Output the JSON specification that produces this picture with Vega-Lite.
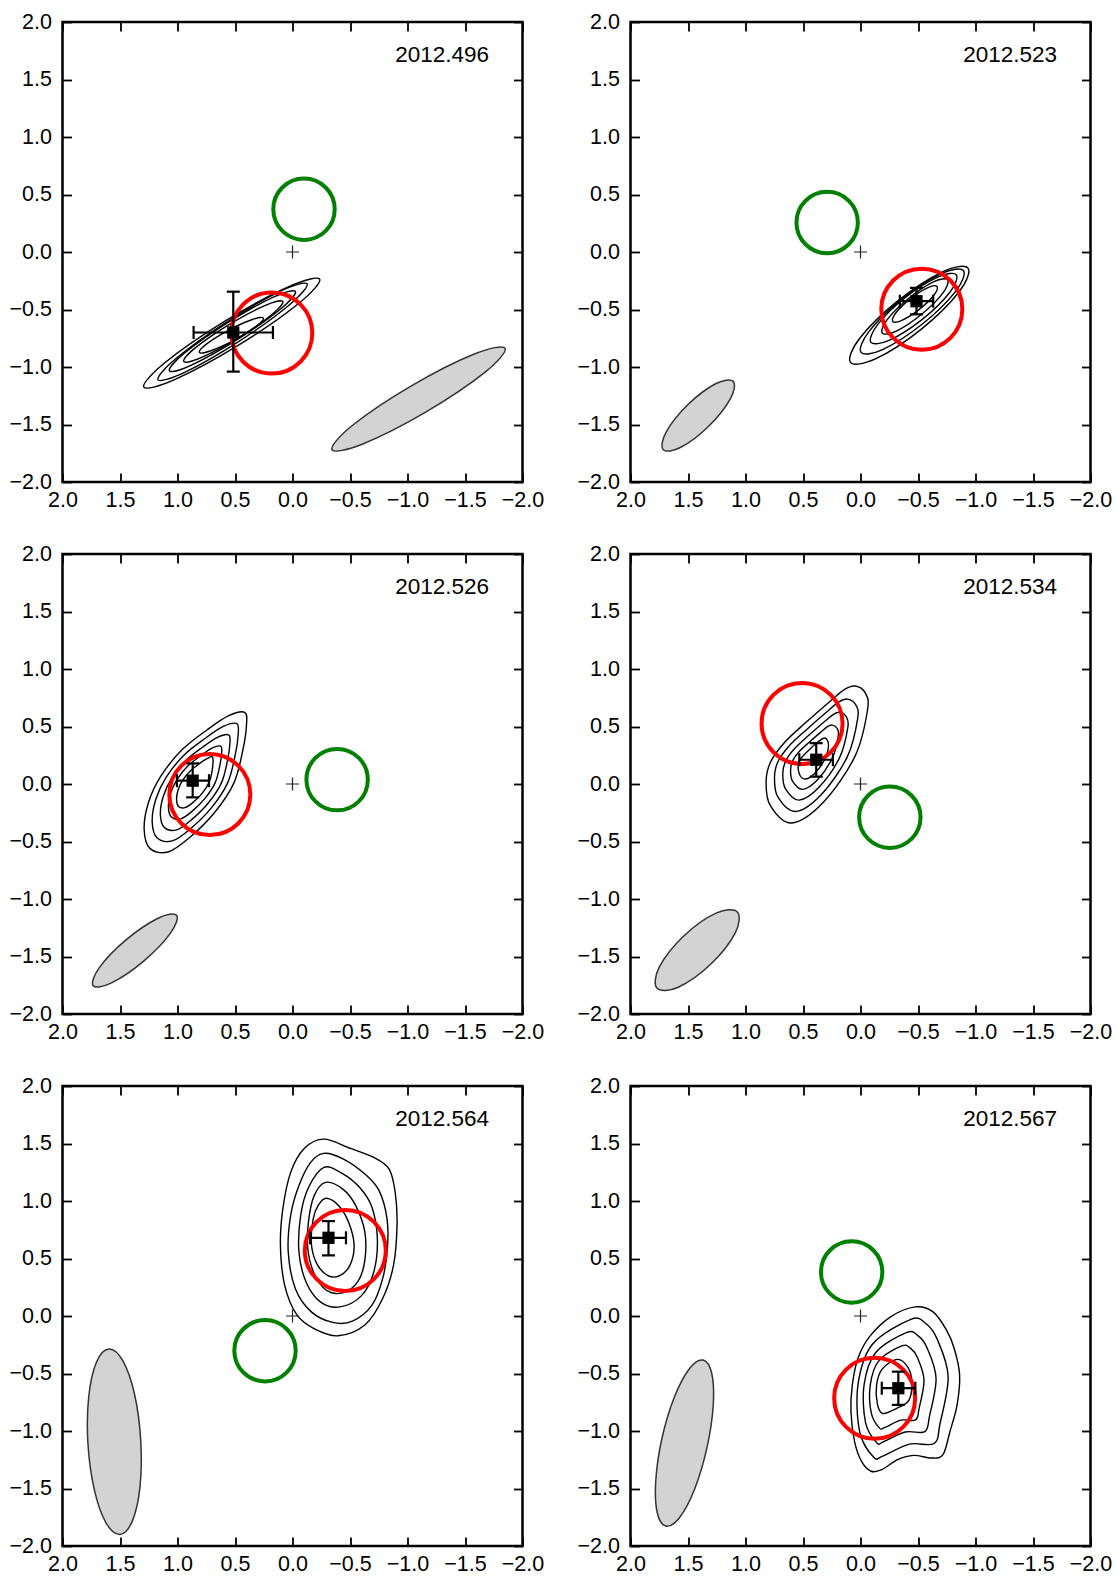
{
"$schema":"https://vega.github.io/schema/vega-lite/v6.json",
"padding":{"left":7.5,"top":9,"right":5,"bottom":5},
"data":{"values":[
{"p":"2012.496","k":"e","x":0.515,"y":-0.7,"x1":0.86,"x2":0.17,"y1":-1.04,"y2":-0.345},
{"p":"2012.496","k":"r","x":0.18,"y":-0.705},
{"p":"2012.496","k":"n","x":-0.1,"y":0.372},
{"p":"2012.496","k":"z","x":0,"y":0},
{"p":"2012.496","k":"b","o":0,"x":-1.848,"y":-0.837},
{"p":"2012.496","k":"b","o":1,"x":-1.581,"y":-0.887},
{"p":"2012.496","k":"b","o":2,"x":-1.03,"y":-1.166},
{"p":"2012.496","k":"b","o":3,"x":-0.517,"y":-1.511},
{"p":"2012.496","k":"b","o":4,"x":-0.344,"y":-1.72},
{"p":"2012.496","k":"b","o":5,"x":-0.611,"y":-1.669},
{"p":"2012.496","k":"b","o":6,"x":-1.162,"y":-1.39},
{"p":"2012.496","k":"b","o":7,"x":-1.675,"y":-1.045},
{"p":"2012.496","k":"c","g":1,"o":0,"x":-0.236,"y":-0.236},
{"p":"2012.496","k":"c","g":1,"o":1,"x":0.032,"y":-0.301},
{"p":"2012.496","k":"c","g":1,"o":2,"x":0.591,"y":-0.603},
{"p":"2012.496","k":"c","g":1,"o":3,"x":1.113,"y":-0.965},
{"p":"2012.496","k":"c","g":1,"o":4,"x":1.293,"y":-1.175},
{"p":"2012.496","k":"c","g":1,"o":5,"x":1.025,"y":-1.11},
{"p":"2012.496","k":"c","g":1,"o":6,"x":0.466,"y":-0.808},
{"p":"2012.496","k":"c","g":1,"o":7,"x":-0.056,"y":-0.446},
{"p":"2012.496","k":"c","g":2,"o":0,"x":-0.127,"y":-0.277},
{"p":"2012.496","k":"c","g":2,"o":1,"x":0.1,"y":-0.339},
{"p":"2012.496","k":"c","g":2,"o":2,"x":0.573,"y":-0.609},
{"p":"2012.496","k":"c","g":2,"o":3,"x":1.016,"y":-0.929},
{"p":"2012.496","k":"c","g":2,"o":4,"x":1.169,"y":-1.111},
{"p":"2012.496","k":"c","g":2,"o":5,"x":0.942,"y":-1.049},
{"p":"2012.496","k":"c","g":2,"o":6,"x":0.469,"y":-0.779},
{"p":"2012.496","k":"c","g":2,"o":7,"x":0.026,"y":-0.459},
{"p":"2012.496","k":"c","g":3,"o":0,"x":-0.025,"y":-0.343},
{"p":"2012.496","k":"c","g":3,"o":1,"x":0.167,"y":-0.393},
{"p":"2012.496","k":"c","g":3,"o":2,"x":0.567,"y":-0.616},
{"p":"2012.496","k":"c","g":3,"o":3,"x":0.941,"y":-0.881},
{"p":"2012.496","k":"c","g":3,"o":4,"x":1.07,"y":-1.033},
{"p":"2012.496","k":"c","g":3,"o":5,"x":0.878,"y":-0.983},
{"p":"2012.496","k":"c","g":3,"o":6,"x":0.478,"y":-0.76},
{"p":"2012.496","k":"c","g":3,"o":7,"x":0.104,"y":-0.495},
{"p":"2012.496","k":"c","g":4,"o":0,"x":0.084,"y":-0.43},
{"p":"2012.496","k":"c","g":4,"o":1,"x":0.236,"y":-0.464},
{"p":"2012.496","k":"c","g":4,"o":2,"x":0.552,"y":-0.631},
{"p":"2012.496","k":"c","g":4,"o":3,"x":0.846,"y":-0.834},
{"p":"2012.496","k":"c","g":4,"o":4,"x":0.946,"y":-0.952},
{"p":"2012.496","k":"c","g":4,"o":5,"x":0.794,"y":-0.918},
{"p":"2012.496","k":"c","g":4,"o":6,"x":0.478,"y":-0.751},
{"p":"2012.496","k":"c","g":4,"o":7,"x":0.184,"y":-0.548},
{"p":"2012.496","k":"c","g":5,"o":0,"x":0.254,"y":-0.575},
{"p":"2012.496","k":"c","g":5,"o":1,"x":0.354,"y":-0.589},
{"p":"2012.496","k":"c","g":5,"o":2,"x":0.558,"y":-0.681},
{"p":"2012.496","k":"c","g":5,"o":3,"x":0.746,"y":-0.799},
{"p":"2012.496","k":"c","g":5,"o":4,"x":0.809,"y":-0.873},
{"p":"2012.496","k":"c","g":5,"o":5,"x":0.71,"y":-0.859},
{"p":"2012.496","k":"c","g":5,"o":6,"x":0.506,"y":-0.767},
{"p":"2012.496","k":"c","g":5,"o":7,"x":0.318,"y":-0.649},

{"p":"2012.523","k":"e","x":-0.487,"y":-0.428,"x1":-0.342,"x2":-0.632,"y1":-0.542,"y2":-0.312},
{"p":"2012.523","k":"r","x":-0.533,"y":-0.497},
{"p":"2012.523","k":"n","x":0.29,"y":0.256},
{"p":"2012.523","k":"z","x":0,"y":0},
{"p":"2012.523","k":"b","o":0,"x":1.107,"y":-1.125},
{"p":"2012.523","k":"b","o":1,"x":1.26,"y":-1.146},
{"p":"2012.523","k":"b","o":2,"x":1.502,"y":-1.329},
{"p":"2012.523","k":"b","o":3,"x":1.69,"y":-1.566},
{"p":"2012.523","k":"b","o":4,"x":1.715,"y":-1.719},
{"p":"2012.523","k":"b","o":5,"x":1.562,"y":-1.698},
{"p":"2012.523","k":"b","o":6,"x":1.32,"y":-1.515},
{"p":"2012.523","k":"b","o":7,"x":1.132,"y":-1.278},
{"p":"2012.523","k":"c","g":1,"o":0,"x":-0.935,"y":-0.14},
{"p":"2012.523","k":"c","g":1,"o":1,"x":-0.714,"y":-0.172},
{"p":"2012.523","k":"c","g":1,"o":2,"x":-0.324,"y":-0.425},
{"p":"2012.523","k":"c","g":1,"o":3,"x":0.008,"y":-0.752},
{"p":"2012.523","k":"c","g":1,"o":4,"x":0.087,"y":-0.96},
{"p":"2012.523","k":"c","g":1,"o":5,"x":-0.134,"y":-0.928},
{"p":"2012.523","k":"c","g":1,"o":6,"x":-0.524,"y":-0.675},
{"p":"2012.523","k":"c","g":1,"o":7,"x":-0.856,"y":-0.348},
{"p":"2012.523","k":"c","g":2,"o":0,"x":-0.895,"y":-0.161},
{"p":"2012.523","k":"c","g":2,"o":1,"x":-0.703,"y":-0.188},
{"p":"2012.523","k":"c","g":2,"o":2,"x":-0.362,"y":-0.408},
{"p":"2012.523","k":"c","g":2,"o":3,"x":-0.073,"y":-0.692},
{"p":"2012.523","k":"c","g":2,"o":4,"x":-0.005,"y":-0.873},
{"p":"2012.523","k":"c","g":2,"o":5,"x":-0.197,"y":-0.846},
{"p":"2012.523","k":"c","g":2,"o":6,"x":-0.538,"y":-0.626},
{"p":"2012.523","k":"c","g":2,"o":7,"x":-0.827,"y":-0.342},
{"p":"2012.523","k":"c","g":3,"o":0,"x":-0.833,"y":-0.198},
{"p":"2012.523","k":"c","g":3,"o":1,"x":-0.671,"y":-0.218},
{"p":"2012.523","k":"c","g":3,"o":2,"x":-0.387,"y":-0.398},
{"p":"2012.523","k":"c","g":3,"o":3,"x":-0.147,"y":-0.634},
{"p":"2012.523","k":"c","g":3,"o":4,"x":-0.091,"y":-0.786},
{"p":"2012.523","k":"c","g":3,"o":5,"x":-0.253,"y":-0.766},
{"p":"2012.523","k":"c","g":3,"o":6,"x":-0.537,"y":-0.586},
{"p":"2012.523","k":"c","g":3,"o":7,"x":-0.777,"y":-0.35},
{"p":"2012.523","k":"c","g":4,"o":0,"x":-0.757,"y":-0.242},
{"p":"2012.523","k":"c","g":4,"o":1,"x":-0.634,"y":-0.26},
{"p":"2012.523","k":"c","g":4,"o":2,"x":-0.417,"y":-0.404},
{"p":"2012.523","k":"c","g":4,"o":3,"x":-0.232,"y":-0.588},
{"p":"2012.523","k":"c","g":4,"o":4,"x":-0.189,"y":-0.705},
{"p":"2012.523","k":"c","g":4,"o":5,"x":-0.312,"y":-0.688},
{"p":"2012.523","k":"c","g":4,"o":6,"x":-0.529,"y":-0.544},
{"p":"2012.523","k":"c","g":4,"o":7,"x":-0.714,"y":-0.36},
{"p":"2012.523","k":"c","g":5,"o":0,"x":-0.665,"y":-0.3},
{"p":"2012.523","k":"c","g":5,"o":1,"x":-0.582,"y":-0.312},
{"p":"2012.523","k":"c","g":5,"o":2,"x":-0.435,"y":-0.405},
{"p":"2012.523","k":"c","g":5,"o":3,"x":-0.31,"y":-0.526},
{"p":"2012.523","k":"c","g":5,"o":4,"x":-0.281,"y":-0.604},
{"p":"2012.523","k":"c","g":5,"o":5,"x":-0.364,"y":-0.592},
{"p":"2012.523","k":"c","g":5,"o":6,"x":-0.511,"y":-0.499},
{"p":"2012.523","k":"c","g":5,"o":7,"x":-0.636,"y":-0.378},

{"p":"2012.526","k":"e","x":0.868,"y":0.029,"x1":1.005,"x2":0.726,"y1":-0.116,"y2":0.179},
{"p":"2012.526","k":"r","x":0.719,"y":-0.092},
{"p":"2012.526","k":"n","x":-0.388,"y":0.038},
{"p":"2012.526","k":"z","x":0,"y":0},
{"p":"2012.526","k":"b","o":0,"x":1.008,"y":-1.142},
{"p":"2012.526","k":"b","o":1,"x":1.169,"y":-1.167},
{"p":"2012.526","k":"b","o":2,"x":1.448,"y":-1.356},
{"p":"2012.526","k":"b","o":3,"x":1.681,"y":-1.599},
{"p":"2012.526","k":"b","o":4,"x":1.733,"y":-1.754},
{"p":"2012.526","k":"b","o":5,"x":1.573,"y":-1.729},
{"p":"2012.526","k":"b","o":6,"x":1.294,"y":-1.54},
{"p":"2012.526","k":"b","o":7,"x":1.061,"y":-1.297},
{"p":"2012.526","k":"c","g":1,"o":0,"x":0.416,"y":0.623},
{"p":"2012.526","k":"c","g":1,"o":1,"x":0.4,"y":0.516},
{"p":"2012.526","k":"c","g":1,"o":2,"x":0.431,"y":0.299},
{"p":"2012.526","k":"c","g":1,"o":3,"x":0.509,"y":0.01},
{"p":"2012.526","k":"c","g":1,"o":4,"x":0.679,"y":-0.25},
{"p":"2012.526","k":"c","g":1,"o":5,"x":0.897,"y":-0.467},
{"p":"2012.526","k":"c","g":1,"o":6,"x":1.083,"y":-0.591},
{"p":"2012.526","k":"c","g":1,"o":7,"x":1.238,"y":-0.562},
{"p":"2012.526","k":"c","g":1,"o":8,"x":1.29,"y":-0.395},
{"p":"2012.526","k":"c","g":1,"o":9,"x":1.253,"y":-0.163},
{"p":"2012.526","k":"c","g":1,"o":10,"x":1.145,"y":0.068},
{"p":"2012.526","k":"c","g":1,"o":11,"x":0.959,"y":0.299},
{"p":"2012.526","k":"c","g":1,"o":12,"x":0.741,"y":0.472},
{"p":"2012.526","k":"c","g":1,"o":13,"x":0.555,"y":0.594},
{"p":"2012.526","k":"c","g":2,"o":0,"x":0.485,"y":0.525},
{"p":"2012.526","k":"c","g":2,"o":1,"x":0.472,"y":0.435},
{"p":"2012.526","k":"c","g":2,"o":2,"x":0.498,"y":0.253},
{"p":"2012.526","k":"c","g":2,"o":3,"x":0.564,"y":0.01},
{"p":"2012.526","k":"c","g":2,"o":4,"x":0.706,"y":-0.208},
{"p":"2012.526","k":"c","g":2,"o":5,"x":0.889,"y":-0.391},
{"p":"2012.526","k":"c","g":2,"o":6,"x":1.046,"y":-0.495},
{"p":"2012.526","k":"c","g":2,"o":7,"x":1.176,"y":-0.47},
{"p":"2012.526","k":"c","g":2,"o":8,"x":1.22,"y":-0.33},
{"p":"2012.526","k":"c","g":2,"o":9,"x":1.189,"y":-0.135},
{"p":"2012.526","k":"c","g":2,"o":10,"x":1.098,"y":0.059},
{"p":"2012.526","k":"c","g":2,"o":11,"x":0.942,"y":0.253},
{"p":"2012.526","k":"c","g":2,"o":12,"x":0.758,"y":0.398},
{"p":"2012.526","k":"c","g":2,"o":13,"x":0.602,"y":0.501},
{"p":"2012.526","k":"c","g":3,"o":0,"x":0.555,"y":0.427},
{"p":"2012.526","k":"c","g":3,"o":1,"x":0.544,"y":0.354},
{"p":"2012.526","k":"c","g":3,"o":2,"x":0.565,"y":0.207},
{"p":"2012.526","k":"c","g":3,"o":3,"x":0.618,"y":0.01},
{"p":"2012.526","k":"c","g":3,"o":4,"x":0.734,"y":-0.167},
{"p":"2012.526","k":"c","g":3,"o":5,"x":0.882,"y":-0.314},
{"p":"2012.526","k":"c","g":3,"o":6,"x":1.008,"y":-0.399},
{"p":"2012.526","k":"c","g":3,"o":7,"x":1.114,"y":-0.379},
{"p":"2012.526","k":"c","g":3,"o":8,"x":1.149,"y":-0.265},
{"p":"2012.526","k":"c","g":3,"o":9,"x":1.124,"y":-0.108},
{"p":"2012.526","k":"c","g":3,"o":10,"x":1.051,"y":0.049},
{"p":"2012.526","k":"c","g":3,"o":11,"x":0.924,"y":0.207},
{"p":"2012.526","k":"c","g":3,"o":12,"x":0.776,"y":0.324},
{"p":"2012.526","k":"c","g":3,"o":13,"x":0.649,"y":0.407},
{"p":"2012.526","k":"c","g":4,"o":0,"x":0.624,"y":0.329},
{"p":"2012.526","k":"c","g":4,"o":1,"x":0.616,"y":0.273},
{"p":"2012.526","k":"c","g":4,"o":2,"x":0.632,"y":0.16},
{"p":"2012.526","k":"c","g":4,"o":3,"x":0.673,"y":0.01},
{"p":"2012.526","k":"c","g":4,"o":4,"x":0.761,"y":-0.125},
{"p":"2012.526","k":"c","g":4,"o":5,"x":0.874,"y":-0.238},
{"p":"2012.526","k":"c","g":4,"o":6,"x":0.971,"y":-0.303},
{"p":"2012.526","k":"c","g":4,"o":7,"x":1.052,"y":-0.287},
{"p":"2012.526","k":"c","g":4,"o":8,"x":1.079,"y":-0.201},
{"p":"2012.526","k":"c","g":4,"o":9,"x":1.06,"y":-0.08},
{"p":"2012.526","k":"c","g":4,"o":10,"x":1.003,"y":0.04},
{"p":"2012.526","k":"c","g":4,"o":11,"x":0.907,"y":0.16},
{"p":"2012.526","k":"c","g":4,"o":12,"x":0.793,"y":0.25},
{"p":"2012.526","k":"c","g":4,"o":13,"x":0.697,"y":0.314},
{"p":"2012.526","k":"c","g":5,"o":0,"x":0.694,"y":0.231},
{"p":"2012.526","k":"c","g":5,"o":1,"x":0.699,"y":0.114},
{"p":"2012.526","k":"c","g":5,"o":2,"x":0.727,"y":0.01},
{"p":"2012.526","k":"c","g":5,"o":3,"x":0.788,"y":-0.084},
{"p":"2012.526","k":"c","g":5,"o":4,"x":0.867,"y":-0.162},
{"p":"2012.526","k":"c","g":5,"o":5,"x":0.934,"y":-0.206},
{"p":"2012.526","k":"c","g":5,"o":6,"x":0.99,"y":-0.196},
{"p":"2012.526","k":"c","g":5,"o":7,"x":1.008,"y":-0.136},
{"p":"2012.526","k":"c","g":5,"o":8,"x":0.995,"y":-0.052},
{"p":"2012.526","k":"c","g":5,"o":9,"x":0.956,"y":0.031},
{"p":"2012.526","k":"c","g":5,"o":10,"x":0.889,"y":0.114},
{"p":"2012.526","k":"c","g":5,"o":11,"x":0.811,"y":0.176},
{"p":"2012.526","k":"c","g":5,"o":12,"x":0.744,"y":0.22},

{"p":"2012.534","k":"e","x":0.385,"y":0.211,"x1":0.532,"x2":0.24,"y1":0.064,"y2":0.355},
{"p":"2012.534","k":"r","x":0.508,"y":0.526},
{"p":"2012.534","k":"n","x":-0.255,"y":-0.289},
{"p":"2012.534","k":"z","x":0,"y":0},
{"p":"2012.534","k":"b","o":0,"x":1.071,"y":-1.113},
{"p":"2012.534","k":"b","o":1,"x":1.256,"y":-1.123},
{"p":"2012.534","k":"b","o":2,"x":1.537,"y":-1.322},
{"p":"2012.534","k":"b","o":3,"x":1.75,"y":-1.593},
{"p":"2012.534","k":"b","o":4,"x":1.769,"y":-1.777},
{"p":"2012.534","k":"b","o":5,"x":1.584,"y":-1.767},
{"p":"2012.534","k":"b","o":6,"x":1.303,"y":-1.568},
{"p":"2012.534","k":"b","o":7,"x":1.09,"y":-1.297},
{"p":"2012.534","k":"c","g":1,"o":0,"x":0.046,"y":0.852},
{"p":"2012.534","k":"c","g":1,"o":1,"x":-0.04,"y":0.794},
{"p":"2012.534","k":"c","g":1,"o":2,"x":-0.062,"y":0.65},
{"p":"2012.534","k":"c","g":1,"o":3,"x":0.046,"y":0.245},
{"p":"2012.534","k":"c","g":1,"o":4,"x":0.323,"y":-0.159},
{"p":"2012.534","k":"c","g":1,"o":5,"x":0.6,"y":-0.339},
{"p":"2012.534","k":"c","g":1,"o":6,"x":0.784,"y":-0.188},
{"p":"2012.534","k":"c","g":1,"o":7,"x":0.821,"y":0.014},
{"p":"2012.534","k":"c","g":1,"o":8,"x":0.784,"y":0.187},
{"p":"2012.534","k":"c","g":1,"o":9,"x":0.661,"y":0.361},
{"p":"2012.534","k":"c","g":1,"o":10,"x":0.476,"y":0.534},
{"p":"2012.534","k":"c","g":1,"o":11,"x":0.261,"y":0.722},
{"p":"2012.534","k":"c","g":1,"o":12,"x":0.138,"y":0.823},
{"p":"2012.534","k":"c","g":2,"o":0,"x":0.113,"y":0.738},
{"p":"2012.534","k":"c","g":2,"o":1,"x":0.042,"y":0.69},
{"p":"2012.534","k":"c","g":2,"o":2,"x":0.024,"y":0.572},
{"p":"2012.534","k":"c","g":2,"o":3,"x":0.113,"y":0.24},
{"p":"2012.534","k":"c","g":2,"o":4,"x":0.34,"y":-0.091},
{"p":"2012.534","k":"c","g":2,"o":5,"x":0.567,"y":-0.239},
{"p":"2012.534","k":"c","g":2,"o":6,"x":0.718,"y":-0.115},
{"p":"2012.534","k":"c","g":2,"o":7,"x":0.748,"y":0.051},
{"p":"2012.534","k":"c","g":2,"o":8,"x":0.718,"y":0.193},
{"p":"2012.534","k":"c","g":2,"o":9,"x":0.617,"y":0.335},
{"p":"2012.534","k":"c","g":2,"o":10,"x":0.465,"y":0.477},
{"p":"2012.534","k":"c","g":2,"o":11,"x":0.289,"y":0.631},
{"p":"2012.534","k":"c","g":2,"o":12,"x":0.188,"y":0.714},
{"p":"2012.534","k":"c","g":3,"o":0,"x":0.18,"y":0.623},
{"p":"2012.534","k":"c","g":3,"o":1,"x":0.124,"y":0.586},
{"p":"2012.534","k":"c","g":3,"o":2,"x":0.11,"y":0.493},
{"p":"2012.534","k":"c","g":3,"o":3,"x":0.18,"y":0.234},
{"p":"2012.534","k":"c","g":3,"o":4,"x":0.357,"y":-0.024},
{"p":"2012.534","k":"c","g":3,"o":5,"x":0.534,"y":-0.14},
{"p":"2012.534","k":"c","g":3,"o":6,"x":0.652,"y":-0.043},
{"p":"2012.534","k":"c","g":3,"o":7,"x":0.676,"y":0.086},
{"p":"2012.534","k":"c","g":3,"o":8,"x":0.652,"y":0.197},
{"p":"2012.534","k":"c","g":3,"o":9,"x":0.573,"y":0.308},
{"p":"2012.534","k":"c","g":3,"o":10,"x":0.455,"y":0.419},
{"p":"2012.534","k":"c","g":3,"o":11,"x":0.317,"y":0.539},
{"p":"2012.534","k":"c","g":3,"o":12,"x":0.238,"y":0.604},
{"p":"2012.534","k":"c","g":4,"o":0,"x":0.244,"y":0.512},
{"p":"2012.534","k":"c","g":4,"o":1,"x":0.204,"y":0.485},
{"p":"2012.534","k":"c","g":4,"o":2,"x":0.193,"y":0.418},
{"p":"2012.534","k":"c","g":4,"o":3,"x":0.244,"y":0.227},
{"p":"2012.534","k":"c","g":4,"o":4,"x":0.374,"y":0.037},
{"p":"2012.534","k":"c","g":4,"o":5,"x":0.504,"y":-0.047},
{"p":"2012.534","k":"c","g":4,"o":6,"x":0.591,"y":0.024},
{"p":"2012.534","k":"c","g":4,"o":7,"x":0.608,"y":0.119},
{"p":"2012.534","k":"c","g":4,"o":8,"x":0.591,"y":0.2},
{"p":"2012.534","k":"c","g":4,"o":9,"x":0.533,"y":0.282},
{"p":"2012.534","k":"c","g":4,"o":10,"x":0.446,"y":0.363},
{"p":"2012.534","k":"c","g":4,"o":11,"x":0.345,"y":0.451},
{"p":"2012.534","k":"c","g":4,"o":12,"x":0.287,"y":0.499},
{"p":"2012.534","k":"c","g":5,"o":0,"x":0.31,"y":0.4},
{"p":"2012.534","k":"c","g":5,"o":1,"x":0.278,"y":0.34},
{"p":"2012.534","k":"c","g":5,"o":2,"x":0.31,"y":0.218},
{"p":"2012.534","k":"c","g":5,"o":3,"x":0.393,"y":0.097},
{"p":"2012.534","k":"c","g":5,"o":4,"x":0.477,"y":0.043},
{"p":"2012.534","k":"c","g":5,"o":5,"x":0.532,"y":0.088},
{"p":"2012.534","k":"c","g":5,"o":6,"x":0.532,"y":0.201},
{"p":"2012.534","k":"c","g":5,"o":7,"x":0.439,"y":0.305},
{"p":"2012.534","k":"c","g":5,"o":8,"x":0.375,"y":0.361},

{"p":"2012.564","k":"e","x":-0.313,"y":0.68,"x1":-0.152,"x2":-0.465,"y1":0.527,"y2":0.825},
{"p":"2012.564","k":"r","x":-0.459,"y":0.57},
{"p":"2012.564","k":"n","x":0.239,"y":-0.302},
{"p":"2012.564","k":"z","x":0,"y":0},
{"p":"2012.564","k":"b","o":0,"x":1.597,"y":-0.287},
{"p":"2012.564","k":"b","o":1,"x":1.705,"y":-0.402},
{"p":"2012.564","k":"b","o":2,"x":1.772,"y":-0.702},
{"p":"2012.564","k":"b","o":3,"x":1.779,"y":-1.107},
{"p":"2012.564","k":"b","o":4,"x":1.724,"y":-1.508},
{"p":"2012.564","k":"b","o":5,"x":1.622,"y":-1.798},
{"p":"2012.564","k":"b","o":6,"x":1.501,"y":-1.899},
{"p":"2012.564","k":"b","o":7,"x":1.393,"y":-1.784},
{"p":"2012.564","k":"b","o":8,"x":1.326,"y":-1.484},
{"p":"2012.564","k":"b","o":9,"x":1.32,"y":-1.079},
{"p":"2012.564","k":"b","o":10,"x":1.374,"y":-0.678},
{"p":"2012.564","k":"b","o":11,"x":1.476,"y":-0.388},
{"p":"2012.564","k":"c","g":1,"o":0,"x":-0.273,"y":1.538},
{"p":"2012.564","k":"c","g":1,"o":1,"x":-0.505,"y":1.457},
{"p":"2012.564","k":"c","g":1,"o":2,"x":-0.707,"y":1.379},
{"p":"2012.564","k":"c","g":1,"o":3,"x":-0.84,"y":1.278},
{"p":"2012.564","k":"c","g":1,"o":4,"x":-0.893,"y":1.076},
{"p":"2012.564","k":"c","g":1,"o":5,"x":-0.909,"y":0.787},
{"p":"2012.564","k":"c","g":1,"o":6,"x":-0.878,"y":0.44},
{"p":"2012.564","k":"c","g":1,"o":7,"x":-0.784,"y":0.152},
{"p":"2012.564","k":"c","g":1,"o":8,"x":-0.629,"y":-0.079},
{"p":"2012.564","k":"c","g":1,"o":9,"x":-0.397,"y":-0.172},
{"p":"2012.564","k":"c","g":1,"o":10,"x":-0.195,"y":-0.114},
{"p":"2012.564","k":"c","g":1,"o":11,"x":-0.04,"y":0.007},
{"p":"2012.564","k":"c","g":1,"o":12,"x":0.068,"y":0.267},
{"p":"2012.564","k":"c","g":1,"o":13,"x":0.105,"y":0.614},
{"p":"2012.564","k":"c","g":1,"o":14,"x":0.084,"y":0.931},
{"p":"2012.564","k":"c","g":1,"o":15,"x":0.016,"y":1.249},
{"p":"2012.564","k":"c","g":1,"o":16,"x":-0.102,"y":1.457},
{"p":"2012.564","k":"c","g":2,"o":0,"x":-0.273,"y":1.414},
{"p":"2012.564","k":"c","g":2,"o":1,"x":-0.443,"y":1.365},
{"p":"2012.564","k":"c","g":2,"o":2,"x":-0.629,"y":1.235},
{"p":"2012.564","k":"c","g":2,"o":3,"x":-0.753,"y":1.09},
{"p":"2012.564","k":"c","g":2,"o":4,"x":-0.822,"y":0.845},
{"p":"2012.564","k":"c","g":2,"o":5,"x":-0.825,"y":0.585},
{"p":"2012.564","k":"c","g":2,"o":6,"x":-0.784,"y":0.325},
{"p":"2012.564","k":"c","g":2,"o":7,"x":-0.691,"y":0.094},
{"p":"2012.564","k":"c","g":2,"o":8,"x":-0.521,"y":-0.045},
{"p":"2012.564","k":"c","g":2,"o":9,"x":-0.35,"y":-0.056},
{"p":"2012.564","k":"c","g":2,"o":10,"x":-0.164,"y":0.036},
{"p":"2012.564","k":"c","g":2,"o":11,"x":-0.025,"y":0.238},
{"p":"2012.564","k":"c","g":2,"o":12,"x":0.037,"y":0.556},
{"p":"2012.564","k":"c","g":2,"o":13,"x":0.016,"y":0.874},
{"p":"2012.564","k":"c","g":2,"o":14,"x":-0.056,"y":1.134},
{"p":"2012.564","k":"c","g":2,"o":15,"x":-0.158,"y":1.336},
{"p":"2012.564","k":"c","g":3,"o":0,"x":-0.273,"y":1.292},
{"p":"2012.564","k":"c","g":3,"o":1,"x":-0.428,"y":1.243},
{"p":"2012.564","k":"c","g":3,"o":2,"x":-0.583,"y":1.119},
{"p":"2012.564","k":"c","g":3,"o":3,"x":-0.691,"y":0.946},
{"p":"2012.564","k":"c","g":3,"o":4,"x":-0.738,"y":0.671},
{"p":"2012.564","k":"c","g":3,"o":5,"x":-0.707,"y":0.383},
{"p":"2012.564","k":"c","g":3,"o":6,"x":-0.598,"y":0.175},
{"p":"2012.564","k":"c","g":3,"o":7,"x":-0.412,"y":0.079},
{"p":"2012.564","k":"c","g":3,"o":8,"x":-0.242,"y":0.123},
{"p":"2012.564","k":"c","g":3,"o":9,"x":-0.118,"y":0.296},
{"p":"2012.564","k":"c","g":3,"o":10,"x":-0.056,"y":0.556},
{"p":"2012.564","k":"c","g":3,"o":11,"x":-0.071,"y":0.874},
{"p":"2012.564","k":"c","g":3,"o":12,"x":-0.14,"y":1.119},
{"p":"2012.564","k":"c","g":4,"o":0,"x":-0.288,"y":1.162},
{"p":"2012.564","k":"c","g":4,"o":1,"x":-0.443,"y":1.099},
{"p":"2012.564","k":"c","g":4,"o":2,"x":-0.552,"y":0.955},
{"p":"2012.564","k":"c","g":4,"o":3,"x":-0.629,"y":0.729},
{"p":"2012.564","k":"c","g":4,"o":4,"x":-0.629,"y":0.484},
{"p":"2012.564","k":"c","g":4,"o":5,"x":-0.567,"y":0.296},
{"p":"2012.564","k":"c","g":4,"o":6,"x":-0.437,"y":0.201},
{"p":"2012.564","k":"c","g":4,"o":7,"x":-0.295,"y":0.224},
{"p":"2012.564","k":"c","g":4,"o":8,"x":-0.189,"y":0.368},
{"p":"2012.564","k":"c","g":4,"o":9,"x":-0.133,"y":0.585},
{"p":"2012.564","k":"c","g":4,"o":10,"x":-0.14,"y":0.83},
{"p":"2012.564","k":"c","g":4,"o":11,"x":-0.189,"y":1.047},
{"p":"2012.564","k":"c","g":5,"o":0,"x":-0.295,"y":1.024},
{"p":"2012.564","k":"c","g":5,"o":1,"x":-0.406,"y":0.955},
{"p":"2012.564","k":"c","g":5,"o":2,"x":-0.49,"y":0.81},
{"p":"2012.564","k":"c","g":5,"o":3,"x":-0.536,"y":0.614},
{"p":"2012.564","k":"c","g":5,"o":4,"x":-0.499,"y":0.44},
{"p":"2012.564","k":"c","g":5,"o":5,"x":-0.406,"y":0.348},
{"p":"2012.564","k":"c","g":5,"o":6,"x":-0.304,"y":0.354},
{"p":"2012.564","k":"c","g":5,"o":7,"x":-0.211,"y":0.455},
{"p":"2012.564","k":"c","g":5,"o":8,"x":-0.164,"y":0.628},
{"p":"2012.564","k":"c","g":5,"o":9,"x":-0.18,"y":0.845},
{"p":"2012.564","k":"c","g":5,"o":10,"x":-0.226,"y":0.966},

{"p":"2012.567","k":"e","x":-0.329,"y":-0.628,"x1":-0.185,"x2":-0.477,"y1":-0.773,"y2":-0.484},
{"p":"2012.567","k":"r","x":-0.123,"y":-0.715},
{"p":"2012.567","k":"n","x":0.077,"y":0.383},
{"p":"2012.567","k":"z","x":0,"y":0},
{"p":"2012.567","k":"b","o":0,"x":1.369,"y":-0.383},
{"p":"2012.567","k":"b","o":1,"x":1.488,"y":-0.458},
{"p":"2012.567","k":"b","o":2,"x":1.619,"y":-0.706},
{"p":"2012.567","k":"b","o":3,"x":1.726,"y":-1.061},
{"p":"2012.567","k":"b","o":4,"x":1.78,"y":-1.428},
{"p":"2012.567","k":"b","o":5,"x":1.768,"y":-1.709},
{"p":"2012.567","k":"b","o":6,"x":1.692,"y":-1.827},
{"p":"2012.567","k":"b","o":7,"x":1.573,"y":-1.752},
{"p":"2012.567","k":"b","o":8,"x":1.442,"y":-1.504},
{"p":"2012.567","k":"b","o":9,"x":1.336,"y":-1.149},
{"p":"2012.567","k":"b","o":10,"x":1.281,"y":-0.782},
{"p":"2012.567","k":"b","o":11,"x":1.293,"y":-0.502},
{"p":"2012.567","k":"c","g":1,"o":0,"x":-0.477,"y":0.079},
{"p":"2012.567","k":"c","g":1,"o":1,"x":-0.631,"y":0.036},
{"p":"2012.567","k":"c","g":1,"o":2,"x":-0.748,"y":-0.123},
{"p":"2012.567","k":"c","g":1,"o":3,"x":-0.815,"y":-0.282},
{"p":"2012.567","k":"c","g":1,"o":4,"x":-0.862,"y":-0.513},
{"p":"2012.567","k":"c","g":1,"o":5,"x":-0.84,"y":-0.773},
{"p":"2012.567","k":"c","g":1,"o":6,"x":-0.778,"y":-1.004},
{"p":"2012.567","k":"c","g":1,"o":7,"x":-0.717,"y":-1.206},
{"p":"2012.567","k":"c","g":1,"o":8,"x":-0.615,"y":-1.235},
{"p":"2012.567","k":"c","g":1,"o":9,"x":-0.462,"y":-1.212},
{"p":"2012.567","k":"c","g":1,"o":10,"x":-0.323,"y":-1.249},
{"p":"2012.567","k":"c","g":1,"o":11,"x":-0.185,"y":-1.336},
{"p":"2012.567","k":"c","g":1,"o":12,"x":-0.092,"y":-1.35},
{"p":"2012.567","k":"c","g":1,"o":13,"x":-0.009,"y":-1.264},
{"p":"2012.567","k":"c","g":1,"o":14,"x":0.052,"y":-1.09},
{"p":"2012.567","k":"c","g":1,"o":15,"x":0.083,"y":-0.83},
{"p":"2012.567","k":"c","g":1,"o":16,"x":0.071,"y":-0.599},
{"p":"2012.567","k":"c","g":1,"o":17,"x":0.022,"y":-0.368},
{"p":"2012.567","k":"c","g":1,"o":18,"x":-0.077,"y":-0.181},
{"p":"2012.567","k":"c","g":1,"o":19,"x":-0.262,"y":-0.007},
{"p":"2012.567","k":"c","g":2,"o":0,"x":-0.438,"y":-0.029},
{"p":"2012.567","k":"c","g":2,"o":1,"x":-0.568,"y":-0.065},
{"p":"2012.567","k":"c","g":2,"o":2,"x":-0.666,"y":-0.199},
{"p":"2012.567","k":"c","g":2,"o":3,"x":-0.762,"y":-0.526},
{"p":"2012.567","k":"c","g":2,"o":4,"x":-0.691,"y":-0.939},
{"p":"2012.567","k":"c","g":2,"o":5,"x":-0.64,"y":-1.109},
{"p":"2012.567","k":"c","g":2,"o":6,"x":-0.426,"y":-1.114},
{"p":"2012.567","k":"c","g":2,"o":7,"x":-0.193,"y":-1.218},
{"p":"2012.567","k":"c","g":2,"o":8,"x":-0.115,"y":-1.229},
{"p":"2012.567","k":"c","g":2,"o":9,"x":0.006,"y":-1.011},
{"p":"2012.567","k":"c","g":2,"o":10,"x":0.022,"y":-0.599},
{"p":"2012.567","k":"c","g":2,"o":11,"x":-0.102,"y":-0.248},
{"p":"2012.567","k":"c","g":3,"o":0,"x":-0.399,"y":-0.144},
{"p":"2012.567","k":"c","g":3,"o":1,"x":-0.502,"y":-0.173},
{"p":"2012.567","k":"c","g":3,"o":2,"x":-0.58,"y":-0.28},
{"p":"2012.567","k":"c","g":3,"o":3,"x":-0.657,"y":-0.541},
{"p":"2012.567","k":"c","g":3,"o":4,"x":-0.6,"y":-0.87},
{"p":"2012.567","k":"c","g":3,"o":5,"x":-0.559,"y":-1.005},
{"p":"2012.567","k":"c","g":3,"o":6,"x":-0.389,"y":-1.009},
{"p":"2012.567","k":"c","g":3,"o":7,"x":-0.203,"y":-1.092},
{"p":"2012.567","k":"c","g":3,"o":8,"x":-0.141,"y":-1.102},
{"p":"2012.567","k":"c","g":3,"o":9,"x":-0.044,"y":-0.928},
{"p":"2012.567","k":"c","g":3,"o":10,"x":-0.031,"y":-0.599},
{"p":"2012.567","k":"c","g":3,"o":11,"x":-0.131,"y":-0.319},
{"p":"2012.567","k":"c","g":4,"o":0,"x":-0.359,"y":-0.26},
{"p":"2012.567","k":"c","g":4,"o":1,"x":-0.436,"y":-0.282},
{"p":"2012.567","k":"c","g":4,"o":2,"x":-0.495,"y":-0.361},
{"p":"2012.567","k":"c","g":4,"o":3,"x":-0.552,"y":-0.556},
{"p":"2012.567","k":"c","g":4,"o":4,"x":-0.51,"y":-0.802},
{"p":"2012.567","k":"c","g":4,"o":5,"x":-0.479,"y":-0.903},
{"p":"2012.567","k":"c","g":4,"o":6,"x":-0.352,"y":-0.906},
{"p":"2012.567","k":"c","g":4,"o":7,"x":-0.213,"y":-0.968},
{"p":"2012.567","k":"c","g":4,"o":8,"x":-0.166,"y":-0.975},
{"p":"2012.567","k":"c","g":4,"o":9,"x":-0.094,"y":-0.845},
{"p":"2012.567","k":"c","g":4,"o":10,"x":-0.085,"y":-0.599},
{"p":"2012.567","k":"c","g":4,"o":11,"x":-0.159,"y":-0.39},
{"p":"2012.567","k":"c","g":5,"o":0,"x":-0.32,"y":-0.377},
{"p":"2012.567","k":"c","g":5,"o":1,"x":-0.41,"y":-0.443},
{"p":"2012.567","k":"c","g":5,"o":2,"x":-0.447,"y":-0.572},
{"p":"2012.567","k":"c","g":5,"o":3,"x":-0.42,"y":-0.734},
{"p":"2012.567","k":"c","g":5,"o":4,"x":-0.315,"y":-0.803},
{"p":"2012.567","k":"c","g":5,"o":5,"x":-0.193,"y":-0.848},
{"p":"2012.567","k":"c","g":5,"o":6,"x":-0.146,"y":-0.762},
{"p":"2012.567","k":"c","g":5,"o":7,"x":-0.14,"y":-0.6},
{"p":"2012.567","k":"c","g":5,"o":8,"x":-0.188,"y":-0.462}
]},
"facet":{"field":"p","type":"nominal","header":{"title":null,"labels":false,"labelExpr":"''","labelFontSize":0,"labelPadding":0}},
"columns":2,
"spacing":{"row":72,"column":108},
"bounds":"flush",
"resolve":{"axis":{"x":"independent","y":"independent"}},
"spec":{
"width":460,"height":460,
"resolve":{"axis":{"x":"independent","y":"independent"}},
"layer":[
{"transform":[{"filter":"datum.k=='b'"}],
 "mark":{"type":"line","interpolate":"cardinal-closed","fill":"#d3d3d3","stroke":"#333333","strokeWidth":1.5},
 "encoding":{
  "x":{"field":"x","type":"quantitative","scale":{"domain":[-2,2],"reverse":true,"nice":false,"zero":false},"axis":{"orient":"bottom","title":null,"values":[-2,-1.5,-1,-0.5,0,0.5,1,1.5,2],"format":".1f","labelPadding":16}},
  "y":{"field":"y","type":"quantitative","scale":{"domain":[-2,2],"nice":false,"zero":false},"axis":{"orient":"left","title":null,"values":[-2,-1.5,-1,-0.5,0,0.5,1,1.5,2],"format":".1f","labelPadding":20}},
  "order":{"field":"o","type":"quantitative"}}},
{"transform":[{"filter":"datum.k=='c'"}],
 "mark":{"type":"line","interpolate":"cardinal-closed","stroke":"black","strokeWidth":1.4},
 "encoding":{
  "x":{"field":"x","type":"quantitative","axis":{"orient":"top","title":null,"labels":false,"values":[-2,-1.5,-1,-0.5,0,0.5,1,1.5,2]}},
  "y":{"field":"y","type":"quantitative","axis":{"orient":"right","title":null,"labels":false,"values":[-2,-1.5,-1,-0.5,0,0.5,1,1.5,2]}},
  "detail":{"field":"g","type":"nominal"},
  "order":{"field":"o","type":"quantitative"}}},
{"transform":[{"filter":"datum.k=='r'"}],
 "mark":{"type":"point","shape":"circle","filled":false,"stroke":"#ff0000","strokeWidth":4,"size":6561,"opacity":1},
 "encoding":{"x":{"field":"x","type":"quantitative","axis":null},"y":{"field":"y","type":"quantitative","axis":null}}},
{"transform":[{"filter":"datum.k=='n'"}],
 "mark":{"type":"point","shape":"circle","filled":false,"stroke":"#008000","strokeWidth":4,"size":3770,"opacity":1},
 "encoding":{"x":{"field":"x","type":"quantitative","axis":null},"y":{"field":"y","type":"quantitative","axis":null}}},
{"transform":[{"filter":"datum.k=='z'"}],
 "mark":{"type":"point","shape":"M-1,0L1,0M0,-1L0,1","filled":false,"stroke":"#222222","strokeWidth":1.2,"size":169,"opacity":1},
 "encoding":{"x":{"field":"x","type":"quantitative","axis":null},"y":{"field":"y","type":"quantitative","axis":null}}},
{"transform":[{"filter":"datum.k=='e'"}],
 "mark":{"type":"rule","color":"black","strokeWidth":2.2,"opacity":1},
 "encoding":{"x":{"field":"x1","type":"quantitative","axis":null},"x2":{"field":"x2"},"y":{"field":"y","type":"quantitative","axis":null}}},
{"transform":[{"filter":"datum.k=='e'"}],
 "mark":{"type":"rule","color":"black","strokeWidth":2.2,"opacity":1},
 "encoding":{"y":{"field":"y1","type":"quantitative","axis":null},"y2":{"field":"y2"},"x":{"field":"x","type":"quantitative","axis":null}}},
{"transform":[{"filter":"datum.k=='e'"}],
 "mark":{"type":"tick","orient":"vertical","color":"black","size":13,"thickness":2.2,"opacity":1},
 "encoding":{"x":{"field":"x1","type":"quantitative","axis":null},"y":{"field":"y","type":"quantitative","axis":null}}},
{"transform":[{"filter":"datum.k=='e'"}],
 "mark":{"type":"tick","orient":"vertical","color":"black","size":13,"thickness":2.2,"opacity":1},
 "encoding":{"x":{"field":"x2","type":"quantitative","axis":null},"y":{"field":"y","type":"quantitative","axis":null}}},
{"transform":[{"filter":"datum.k=='e'"}],
 "mark":{"type":"tick","orient":"horizontal","color":"black","size":13,"thickness":2.2,"opacity":1},
 "encoding":{"x":{"field":"x","type":"quantitative","axis":null},"y":{"field":"y1","type":"quantitative","axis":null}}},
{"transform":[{"filter":"datum.k=='e'"}],
 "mark":{"type":"tick","orient":"horizontal","color":"black","size":13,"thickness":2.2,"opacity":1},
 "encoding":{"x":{"field":"x","type":"quantitative","axis":null},"y":{"field":"y2","type":"quantitative","axis":null}}},
{"transform":[{"filter":"datum.k=='e'"}],
 "mark":{"type":"point","shape":"square","filled":true,"color":"black","size":150,"opacity":1},
 "encoding":{"x":{"field":"x","type":"quantitative","axis":null},"y":{"field":"y","type":"quantitative","axis":null}}},
{"transform":[{"filter":"datum.k=='e'"}],
 "mark":{"type":"text","align":"right","baseline":"middle","fontSize":22.5,"font":"Liberation Sans","color":"black"},
 "encoding":{"x":{"datum":-1.71,"type":"quantitative","axis":null},"y":{"datum":1.717,"type":"quantitative","axis":null},"text":{"field":"p","type":"nominal"}}}
]},
"config":{
 "view":{"stroke":"black","strokeWidth":2.5},
 "header":{"labels":false,"title":null},
 "headerFacet":{"labels":false,"title":null},
 "axis":{"grid":false,"domain":false,"ticks":true,"tickSize":-9,"tickWidth":1.8,"tickColor":"black","labelFont":"Liberation Sans","labelFontSize":21.5,"labelColor":"black","labelOverlap":false,"labelFlush":false}
}
}
